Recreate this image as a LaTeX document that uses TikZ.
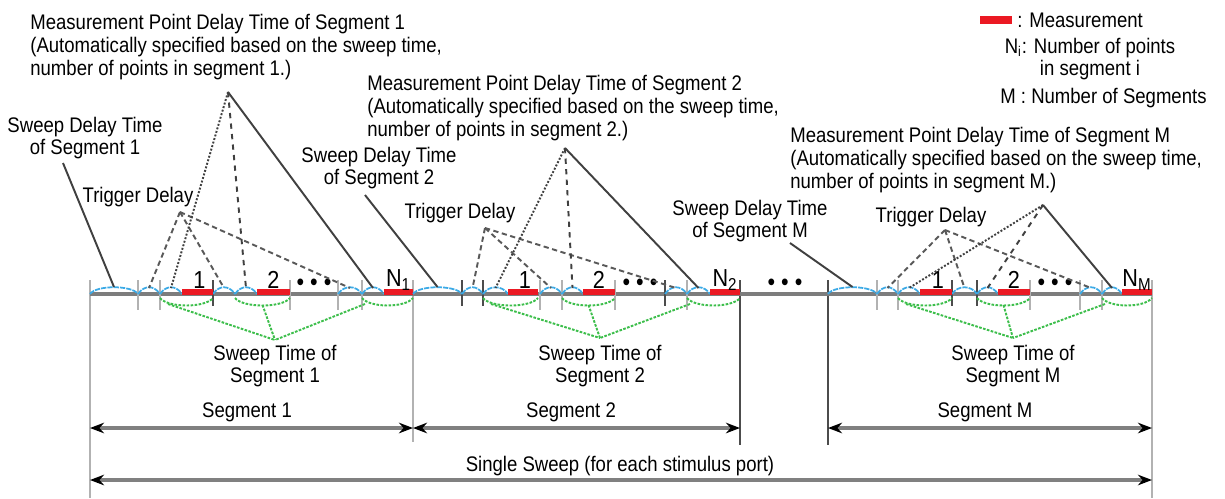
\documentclass[tikz,border=0pt]{standalone}
\usepackage{fontspec}
\setmainfont{Liberation Sans}[FakeStretch=0.88]
\usetikzlibrary{arrows.meta}

\definecolor{axisgray}{RGB}{125,125,125}
\definecolor{arcblue}{RGB}{60,170,230}
\definecolor{measred}{RGB}{235,25,35}
\definecolor{sweepgreen}{RGB}{60,190,75}

\begin{document}
\begin{tikzpicture}[
  x=0.02cm, y=-0.02cm,
  font=\fontsize{12}{13}\selectfont, >=Stealth,
  lbl/.style={align=center, inner sep=0pt},
  blk/.style={align=left, anchor=west, inner sep=0pt},
  num/.style={inner sep=0pt, font=\fontsize{14}{14}\selectfont},
  axis/.style={draw=axisgray, line width=2.3pt},
  meas/.style={draw=measred, line width=3.3pt},
  tck/.style={draw=gray!60, line width=1.3pt},
  dtck/.style={draw=black!70, line width=1.6pt},
  bnd/.style={draw=gray!60, line width=0.9pt},
  dbnd/.style={draw=black!70, line width=1.6pt},
  darc/.style={draw=arcblue, line width=1pt, dash pattern=on 3pt off 0.6pt},
  garc/.style={draw=sweepgreen, line width=1.1pt, dash pattern=on 1.5pt off 0.8pt},
  lead/.style={draw=black!75, line width=1.1pt},
  tlead/.style={draw=black!65, line width=1.1pt, dash pattern=on 3pt off 2pt},
  dim/.style={draw=gray, line width=2pt,
    {Stealth[color=black,length=8pt,width=6pt]}-{Stealth[color=black,length=8pt,width=6pt]}},
]
\useasboundingbox (0,0) rectangle (1225,498);

% segment boundaries and time axis
\draw[bnd]  (90,280) -- (90,498);
\draw[bnd]  (413,280) -- (413,442);
\draw[dbnd] (740,280) -- (740,445);
\draw[dbnd] (828,280) -- (828,445);
\draw[bnd]  (1152,280) -- (1152,498);
\coordinate (tl) at (90,294);
\coordinate (tr) at (1152,294);
\draw[axis] (tl) -- (tr);

\foreach \x in {138,160,290,338,362,540,562,615,687,877,898,1030,1080,1102}
  \draw[tck] (\x,280) -- (\x,310);
\foreach \x in {213,462,483,665,952,977}
  \draw[dtck] (\x,280) -- (\x,306);

% one segment: sweep delay, then points 1, 2, ..., N
\foreach \k/\xs/\xsd/\xta/\xma/\xra/\xtb/\xtbe/\xmb/\xrb/\xtn/\xtne/\xmn/\xe in
  {1/90/138/160/182/213/213/235/257/290/338/362/384/413,
   2/413/462/483/508/538/540/562/583/615/665/687/710/740,
   M/828/877/898/920/952/952/977/998/1030/1080/1102/1122/1152}{
  \foreach \a/\b in {\xs/\xsd,\xsd/\xta,\xta/\xma,\xtb/\xtbe,\xtbe/\xmb,\xtn/\xtne,\xtne/\xmn}
    \draw[darc] (\a,294) .. controls +(6,-9) and +(-6,-9) .. (\b,294);
  \foreach \a/\b in {\xma/\xra,\xmb/\xrb,\xmn/\xe}
    \draw[meas] (\a,292) -- (\b,292);
  \foreach \a/\b in {\xta/\xra,\xtbe/\xrb,\xtne/\xe}
    \draw[garc] (\a,298) .. controls +(8,10) and +(-8,10) .. (\b,298);
  \coordinate (sd\k) at ({(\xs+\xsd)/2},287);
  \coordinate (ta\k) at ({(\xsd+\xta)/2},288);
  \coordinate (ma\k) at ({(\xta+\xma)/2},288);
  \coordinate (tb\k) at ({(\xtb+\xtbe)/2},288);
  \coordinate (mb\k) at ({(\xtbe+\xmb)/2},288);
  \coordinate (tn\k) at ({(\xtn+\xtne)/2},288);
  \coordinate (mn\k) at ({(\xtne+\xmn)/2},288);
  \coordinate (ga\k) at ({\xta+8},304);
  \coordinate (gb\k) at ({(\xtbe+\xrb)/2},305);
  \coordinate (gn\k) at ({\xtne+3},304);
  \node[num] (na\k) at ({(\xma+\xra)/2+2},280) {1};
  \node[num] (nb\k) at ({(\xmb+\xrb)/2},280) {2};
  \node[num] (nn\k) at ({(\xmn+\xe)/2},280) {N\textsubscript{\k}};
  \node[num] (dt\k) at ({(\xrb+\xtn)/2},285) {• • •};
  \coordinate (as\k) at (\xs,428);
  \coordinate (ae\k) at (\xe,428);
  \draw[dim] (as\k) -- (ae\k);
}
\node[num] (dts) at (785,285) {• • •};

% labels above the axis
\node[blk] (mpd1) at (30,47) {Measurement Point Delay Time of Segment 1\\(Automatically specified based on the sweep time,\\number of points in segment 1.)};
\node[blk] (mpd2) at (367,108) {Measurement Point Delay Time of Segment 2\\(Automatically specified based on the sweep time,\\number of points in segment 2.)};
\node[blk] (mpdM) at (790,160) {Measurement Point Delay Time of Segment M\\(Automatically specified based on the sweep time,\\number of points in segment M.)};
\node[lbl] (sdl1) at (85,138) {Sweep Delay Time\\of Segment 1};
\node[lbl] (sdl2) at (379,168) {Sweep Delay Time\\of Segment 2};
\node[lbl] (sdlM) at (750,221) {Sweep Delay Time\\of Segment M};
\node[lbl] (tdl1) at (138,197) {Trigger Delay};
\node[lbl] (tdl2) at (460,213) {Trigger Delay};
\node[lbl] (tdlM) at (931,217) {Trigger Delay};

\coordinate (mpa1) at (228,92);
\coordinate (mpa2) at (565,148);
\coordinate (mpaM) at (1043,205);
\coordinate (sda1) at (63,163);
\coordinate (sda2) at (365,195);
\coordinate (sdaM) at (790,243);
\coordinate (tda1) at (180,212);
\coordinate (tda2) at (485,228);
\coordinate (tdaM) at (945,230);
\coordinate (gap1) at (275,340);
\coordinate (gap2) at (600,338);
\coordinate (gapM) at (1013,338);

\foreach \k in {1,2,M}{
  \draw[lead] (sda\k) -- (sd\k);
  \draw[tlead] (tda\k) -- (ta\k);
  \draw[tlead] (tda\k) -- (tb\k);
  \draw[tlead] (tda\k) -- (tn\k);
  \draw[lead, densely dotted] (mpa\k) -- (ma\k);
  \draw[lead, dashed] (mpa\k) -- (mb\k);
  \draw[lead] (mpa\k) -- (mn\k);
  \draw[garc] (ga\k) -- (gap\k);
  \draw[garc] (gb\k) -- (gap\k);
  \draw[garc] (gn\k) -- (gap\k);
}

% labels below the axis
\node[lbl] (swt1) at (275,366) {Sweep Time of\\Segment 1};
\node[lbl] (swt2) at (600,366) {Sweep Time of\\Segment 2};
\node[lbl] (swtM) at (1013,366) {Sweep Time of\\Segment M};
\node[lbl] (sg1) at (247,412) {Segment 1};
\node[lbl] (sg2) at (571,412) {Segment 2};
\node[lbl] (sgM) at (985,412) {Segment M};
\node[lbl] (ssw) at (620,466) {Single Sweep (for each stimulus port)};
\coordinate (swl) at (90,480);
\coordinate (swr) at (1152,480);
\draw[dim] (swl) -- (swr);

% legend
\coordinate (lgl) at (980,20);
\coordinate (lgr) at (1012,20);
\draw[meas, line width=4pt] (lgl) -- (lgr);
\node[blk] (lgm) at (1017,20) {: Measurement};
\node[lbl] (lgn) at (1090,59) {N\textsubscript{i}: Number of points\\in segment i};
\node[blk] (lgs) at (1000,98) {M : Number of Segments};
\end{tikzpicture}
\end{document}
